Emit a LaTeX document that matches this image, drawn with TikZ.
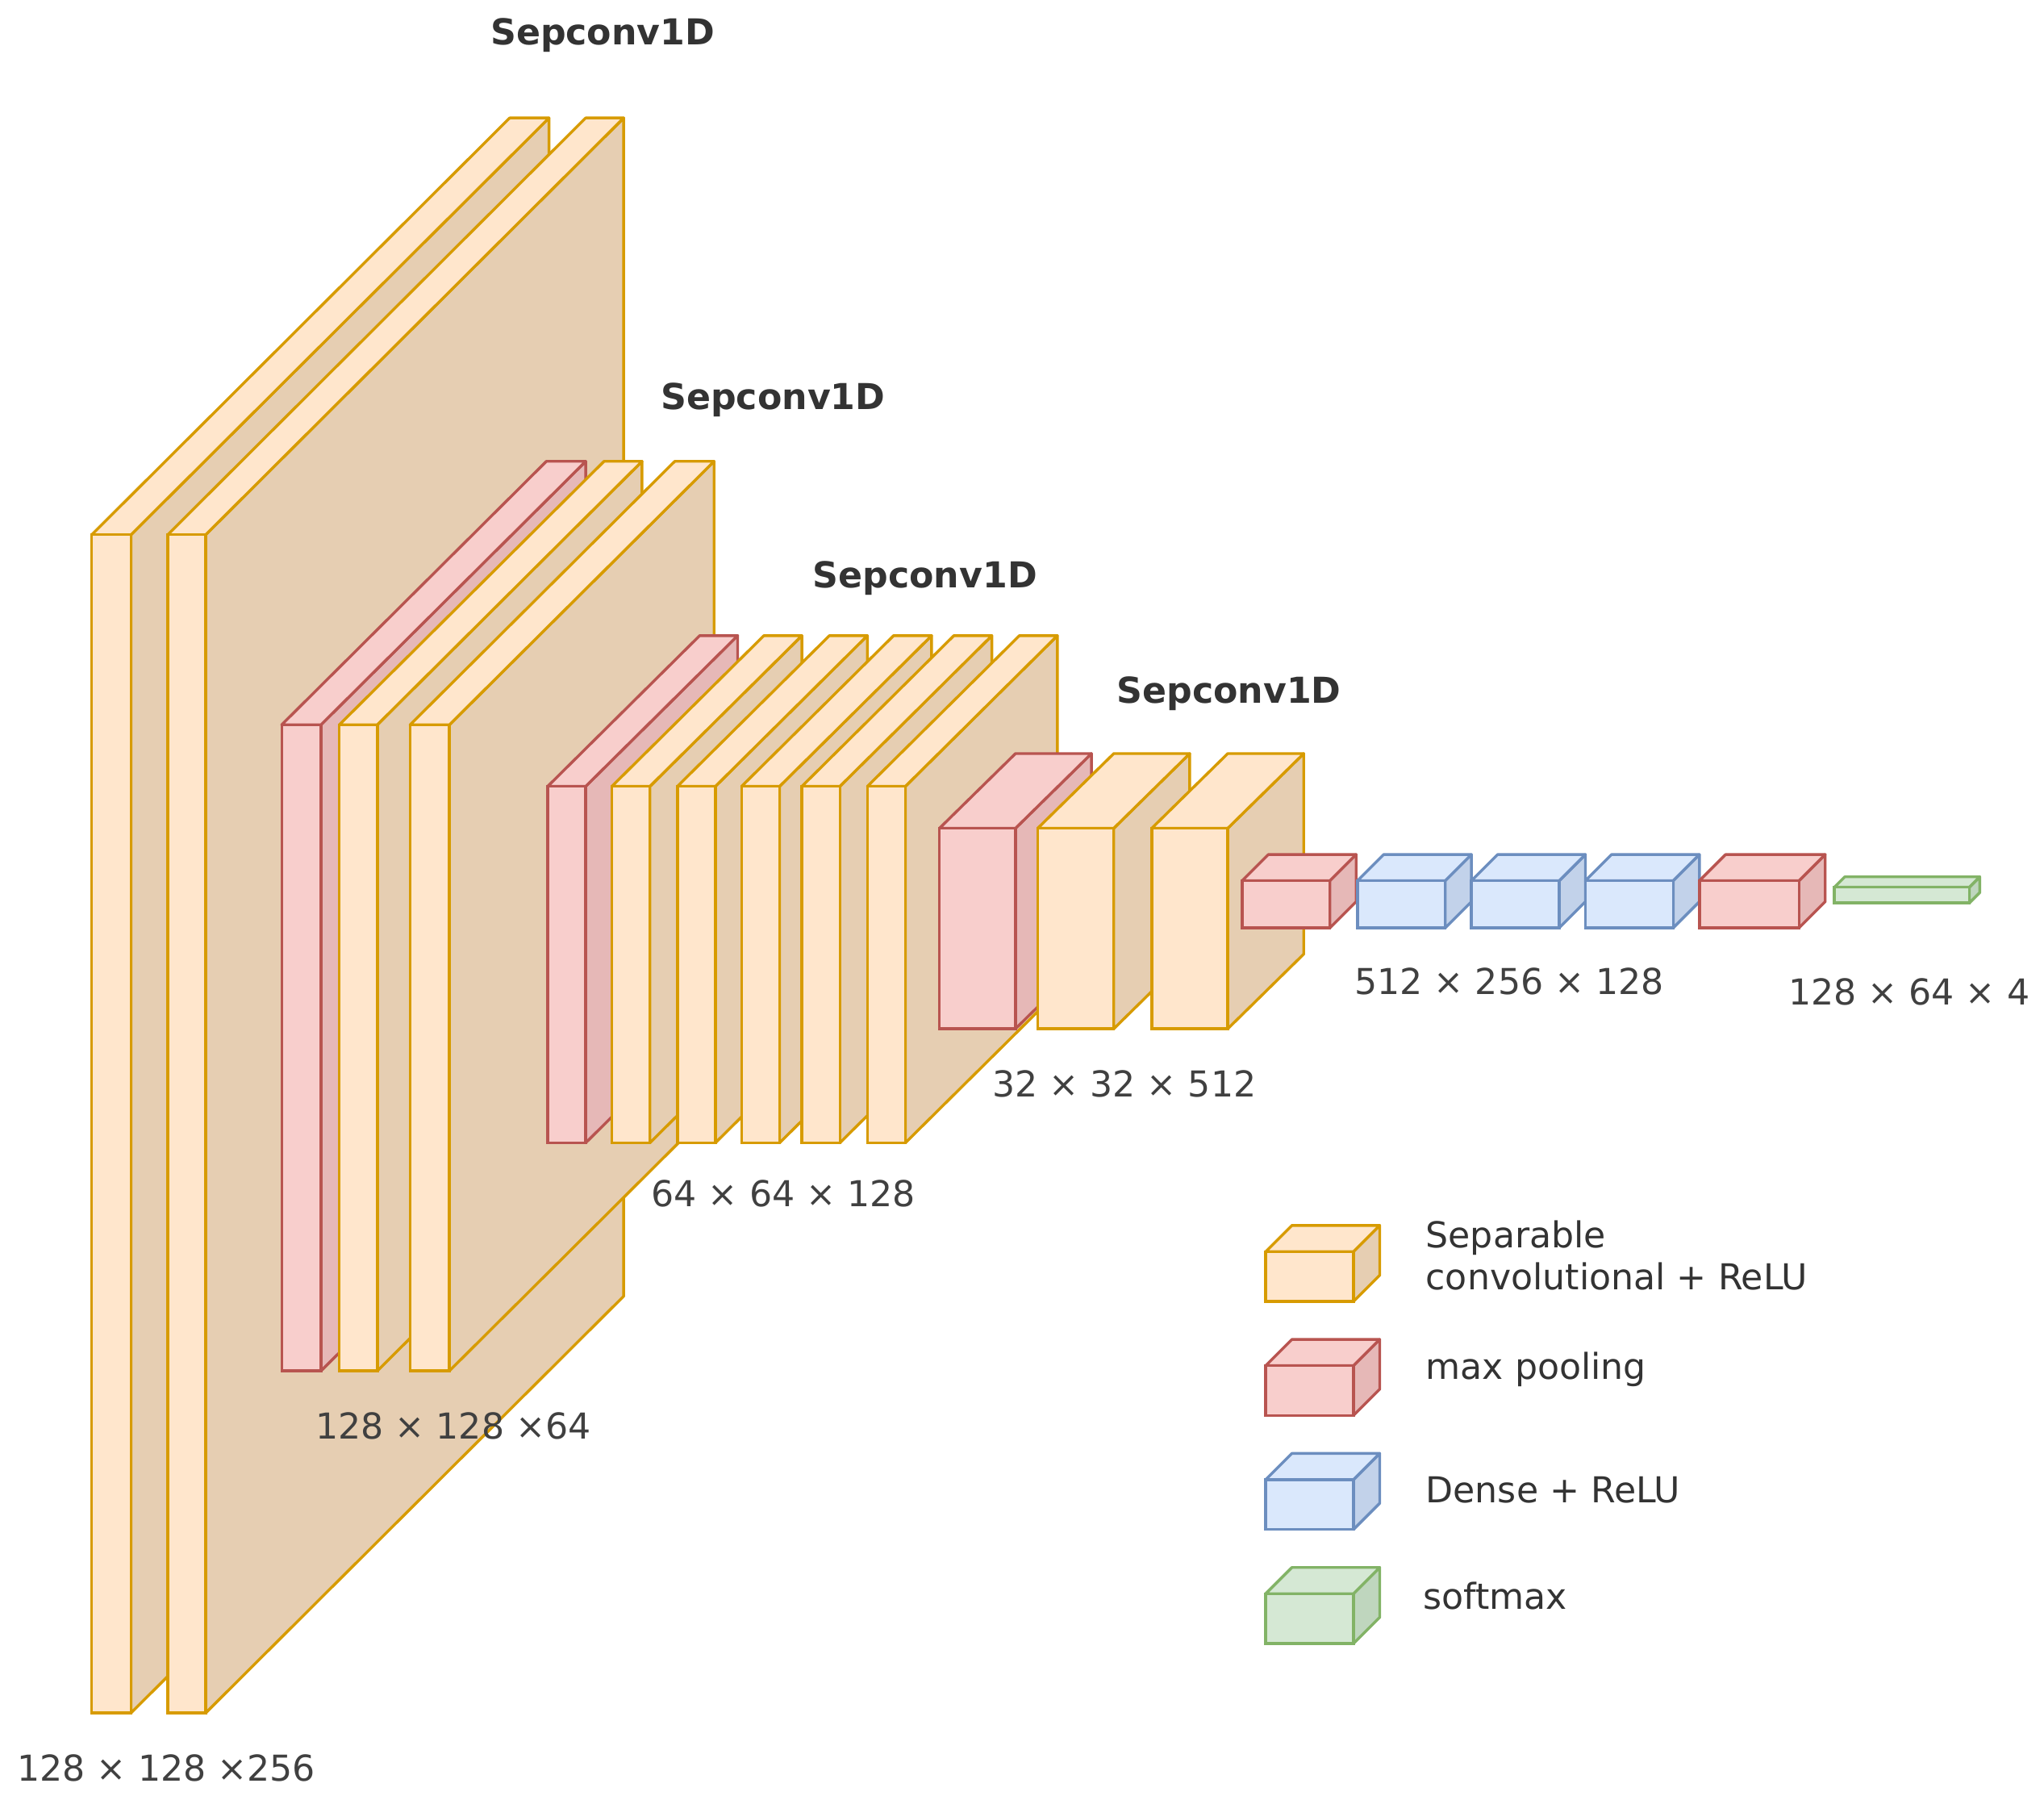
\documentclass[tikz,border=0pt]{standalone}
\usepackage{fontspec}
\setmainfont{DejaVu Sans}
\definecolor{convline}{HTML}{D79B00}
\definecolor{convfront}{HTML}{FFE6CC}
\definecolor{convside}{HTML}{E6CEB2}
\definecolor{poolline}{HTML}{B85450}
\definecolor{poolfront}{HTML}{F8CECC}
\definecolor{poolside}{HTML}{E6B8B7}
\definecolor{denseline}{HTML}{6C8EBF}
\definecolor{densefront}{HTML}{DAE8FC}
\definecolor{denseside}{HTML}{C2D2EA}
\definecolor{softline}{HTML}{82B366}
\definecolor{softfront}{HTML}{D5E8D4}
\definecolor{softside}{HTML}{BFD6BE}
% x1 y1 x2 y2 dx dy kind
\newcommand{\layer}[7]{%
  \draw[#7line,line width=1.2pt,fill=#7side,line join=round] (#3,#2) -- ({#3+#5},{#2+#6}) -- ({#3+#5},{#4+#6}) -- (#3,#4) -- cycle;
  \draw[#7line,line width=1.2pt,fill=#7front,line join=round] (#1,#2) -- ({#1+#5},{#2+#6}) -- ({#3+#5},{#2+#6}) -- (#3,#2) -- cycle;
  \draw[#7line,line width=1.2pt,fill=#7front] (#1,#2) rectangle (#3,#4);}
\tikzset{
  title/.style={font=\fontsize{15.5}{18}\selectfont\bfseries, text=black!80},
  dims/.style={font=\fontsize{15.5}{18}\selectfont, text=black!75},
  legend/.style={font=\fontsize{15.5}{18}\selectfont, text=black!80, anchor=west, align=left}
}
\begin{document}
\begin{tikzpicture}[x=0.02cm,y=-0.02cm]
\useasboundingbox (0,0) rectangle (1560,1370);
% first block
\layer{70}{408}{100}{1307}{319}{-318}{conv}
\layer{128}{408}{157}{1307}{319}{-318}{conv}
% second block
\layer{215}{553}{245}{1046}{202}{-201}{pool}
\layer{259}{553}{288}{1046}{202}{-201}{conv}
\layer{313}{553}{343}{1046}{202}{-201}{conv}
% third block
\layer{418}{600}{447}{872}{116}{-115}{pool}
\foreach \x in {467,517,566,612,662}
  {\layer{\x}{600}{\x+29}{872}{116}{-115}{conv}}
% fourth block
\layer{717}{632}{775}{785}{58}{-57}{pool}
\layer{792}{632}{850}{785}{58}{-57}{conv}
\layer{879}{632}{937}{785}{58}{-57}{conv}
% dense part
\layer{948}{672}{1015}{708}{20}{-20}{pool}
\foreach \x in {1036,1123,1210}
  {\layer{\x}{672}{\x+67}{708}{20}{-20}{dense}}
\layer{1297}{672}{1373}{708}{20}{-20}{pool}
\layer{1400}{677}{1503}{689}{8}{-8}{soft}

% labels
\node[title] (t1) at (460,27) {Sepconv1D};
\node[title] (t2) at (590,305) {Sepconv1D};
\node[title] (t3) at (706,441) {Sepconv1D};
\node[title] (t4) at (938,529) {Sepconv1D};
\node[dims] (d1) at (127,1349) {128 × 128 ×256};
\node[dims] (d2) at (346,1088) {128 × 128 ×64};
\node[dims] (d3) at (598,911) {64 × 64 × 128};
\node[dims] (d4) at (858,827) {32 × 32 × 512};
\node[dims] (d5) at (1152,749) {512 × 256 × 128};
\node[dims] (d6) at (1457,757) {128 × 64 × 4};

% legend
\layer{966}{955}{1033}{993}{20}{-20}{conv}
\layer{966}{1042}{1033}{1080}{20}{-20}{pool}
\layer{966}{1129}{1033}{1167}{20}{-20}{dense}
\layer{966}{1216}{1033}{1254}{20}{-20}{soft}
\node[legend] (l1) at (1082,958) {Separable\\convolutional + ReLU};
\node[legend] (l2) at (1082,1045) {max pooling};
\node[legend] (l3) at (1082,1137) {Dense + ReLU};
\node[legend] (l4) at (1080,1218) {softmax};
\end{tikzpicture}
\end{document}
